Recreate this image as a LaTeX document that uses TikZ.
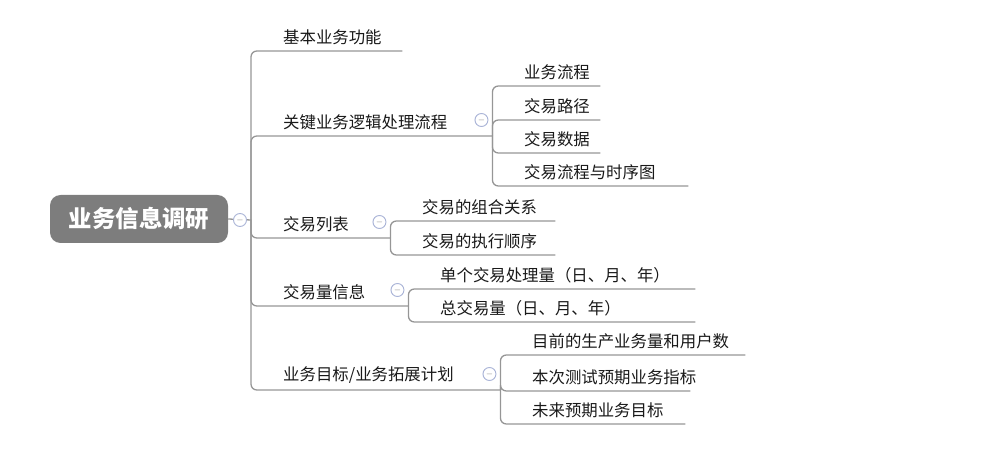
\documentclass[tikz,border=0pt]{standalone}
\usepackage{fontspec}
\setmainfont{Noto Sans CJK SC}
\usetikzlibrary{positioning}
\definecolor{linegray}{RGB}{150,150,150}
\definecolor{rootgray}{RGB}{125,125,125}
\definecolor{btnblue}{RGB}{170,180,215}
\tikzset{
  lbl/.style={anchor=south west, inner xsep=0pt, inner ysep=5pt, text width=#1*0.03cm, align=left, font=\fontsize{14}{16}\selectfont, text=black!90},
  branch/.style={draw=linegray, line width=1.1pt, rounded corners=5pt},
  btn/.style={circle, draw=btnblue, line width=0.8pt, fill=white, minimum size=13*0.03cm, inner sep=0pt, font=\scriptsize, text=gray}
}
\begin{document}
\begin{tikzpicture}[x=0.03cm, y=-0.03cm]
   \useasboundingbox (0,0) rectangle (1000,455);
   % root
   \node (root) [fill=rootgray, rounded corners=9pt, minimum width=178*0.03cm, minimum height=48*0.03cm, text=white, font=\fontsize{20}{24}\selectfont\bfseries] at (139,219) {业务信息调研};
   \coordinate (hub) at (251,220);
   \draw [branch] (root.east) -- (hub);
   \node (b0) [btn] at (240,220) {$-$};
   % first level
   \node (n1) [lbl=119] at (283,51) {基本业务功能};
   \node (n2) [lbl=209] at (283,136) {关键业务逻辑处理流程};
   \node (n3) [lbl=107] at (283,238) {交易列表};
   \node (n4) [lbl=125] at (283,306) {交易量信息};
   \node (n5) [lbl=217] at (283,390) {业务目标/业务拓展计划};
   \foreach \n in {n1,n2,n3,n4,n5}
     \draw [branch] (hub) |- (\n.south east);
   % second level
   \node (n21) [lbl=76] at (524,86) {业务流程};
   \node (n22) [lbl=76] at (524,120) {交易路径};
   \node (n23) [lbl=76] at (524,153) {交易数据};
   \node (n24) [lbl=164] at (524,186) {交易流程与时序图};
   \node (n31) [lbl=133] at (422,221) {交易的组合关系};
   \node (n32) [lbl=133] at (422,255) {交易的执行顺序};
   \node (n41) [lbl=255] at (440,289) {单个交易处理量（日、月、年）};
   \node (n42) [lbl=255] at (440,322) {总交易量（日、月、年）};
   \node (n51) [lbl=213] at (532,355) {目前的生产业务量和用户数};
   \node (n52) [lbl=158] at (532,391) {本次测试预期业务指标};
   \node (n53) [lbl=153] at (532,424) {未来预期业务目标};
   \foreach \p/\c in {n2/n21,n2/n22,n2/n23,n2/n24,n3/n31,n3/n32,n4/n41,n4/n42,n5/n51,n5/n52,n5/n53}
     \draw [branch] (\p.south east) |- (\c.south east);
   % collapse buttons
   \foreach \p/\b in {n2/b2,n3/b3,n4/b4,n5/b5}
     \node (\b) [btn] at ([xshift=-11*0.03cm, yshift=16*0.03cm]\p.south east) {$-$};
\end{tikzpicture}
\end{document}
